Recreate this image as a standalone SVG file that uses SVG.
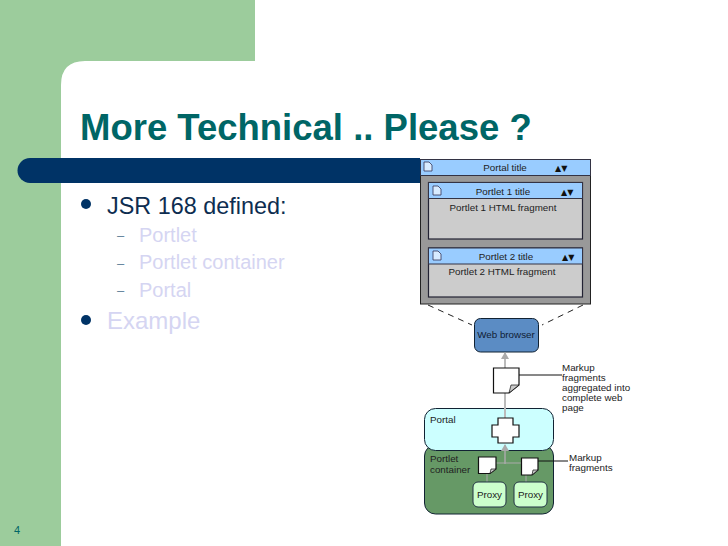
<svg xmlns="http://www.w3.org/2000/svg" width="728" height="546" viewBox="0 0 728 546">
<style>
text{font-family:"Liberation Sans",Arial,sans-serif}
.d{font-size:9.800px;fill:#222}
.m{text-anchor:middle}
.t{fill:#99ccff;stroke:#334;stroke-width:1}
.w{fill:#fff;stroke:#111;stroke-width:1.200}
.sub{font-size:20px;fill:#d5d5f2}
.dash{font-size:13px;fill:#5f7f99}
.bul{fill:#003366}
text.ar{font-family:"DejaVu Sans",sans-serif;font-size:8px;fill:#111}
.ic{fill:#d8ebff;stroke:#335;stroke-width:.8}
.fold{fill:#ccc;stroke:#111;stroke-width:.7}
</style>
<defs>
<path id="doc" d="M0 0H5L8 3V9H0Z"/>
<marker id="a" markerUnits="userSpaceOnUse" markerWidth="8" markerHeight="10" refX="6" refY="4" orient="auto"><path d="M0 0L7 4L0 8Z" fill="#aaa"/></marker>
</defs>
<rect width="728" height="546" fill="#fff"/>
<path d="M0 0H255V61H85Q61 61 61 85V546H0Z" fill="#9ccc9c"/>
<path d="M30 158H420V183H30A12.500 12.500 0 0 1 30 158Z" fill="#003366"/>
<text id="title" x="80" y="140" font-size="36.500" font-weight="bold" fill="#006666">More Technical .. Please ?</text>
<g id="bullets">
<circle class="bul" cx="86" cy="204" r="5"/>
<text x="107" y="214" font-size="23.400" fill="#0d2d50">JSR 168 defined:</text>
<text class="dash" x="117" y="240">–</text><text class="sub" x="139" y="242">Portlet</text>
<text class="dash" x="117" y="267.500">–</text><text class="sub" x="139" y="269">Portlet container</text>
<text class="dash" x="117" y="295">–</text><text class="sub" x="139" y="297">Portal</text>
<circle class="bul" cx="86" cy="320" r="5"/>
<text x="107" y="329" font-size="24" fill="#d5d5f2">Example</text>
</g>
<text id="pagenum" x="14" y="534" font-size="11" fill="#006666">4</text>
<g id="portal-window">
<rect x="420.500" y="159.500" width="170" height="144.500" fill="#999" stroke="#222"/>
<rect class="t" x="420.500" y="159.500" width="170" height="16"/>
<use href="#doc" class="ic" x="424" y="162"/>
<text class="d m" x="505" y="171">Portal title</text>
<text class="ar" x="555" y="171">▲▼</text>
</g>
<g id="portlet-1">
<rect x="428.500" y="182.500" width="154" height="56.500" fill="#ccc" stroke="#223" stroke-width="1.200"/>
<rect class="t" x="428.500" y="182.500" width="154" height="16"/>
<use href="#doc" class="ic" x="433" y="186"/>
<text class="d m" x="503" y="195">Portlet 1 title</text>
<text class="ar" x="561" y="195">▲▼</text>
<text class="d m" x="503" y="211">Portlet 1 HTML fragment</text>
</g>
<g id="portlet-2">
<rect x="428.500" y="248" width="154" height="49" fill="#ccc" stroke="#223" stroke-width="1.200"/>
<rect class="t" x="428.500" y="248" width="154" height="16"/>
<use href="#doc" class="ic" x="433" y="251"/>
<text class="d m" x="506" y="260">Portlet 2 title</text>
<text class="ar" x="562" y="260">▲▼</text>
<text class="d m" x="502" y="275">Portlet 2 HTML fragment</text>
</g>
<g id="web-browser">
<rect x="474.500" y="318.500" width="64" height="33.500" rx="6" fill="#5b8cc4" stroke="#123"/>
<text class="d m" x="506" y="338" style="fill:#102035">Web browser</text>
</g>
<g id="portlet-container">
<rect x="424.500" y="445" width="129" height="69" rx="11" fill="#669966" stroke="#123"/>
<text class="d" x="430" y="462">Portlet</text>
<text class="d" x="430" y="473">container</text>
</g>
<g id="portal">
<rect x="424.500" y="408.500" width="129" height="42" rx="11" fill="#ccffff" stroke="#123"/>
<text class="d" x="430" y="423">Portal</text>
</g>
<g id="connectors" fill="none">
<path d="M428 305L472 325M583 305L542 325" stroke="#222" stroke-dasharray="6 5"/>
<path d="M505 418V353" stroke="#bbb" stroke-width="2" marker-end="url(#a)"/>
<path d="M505 464V445" stroke="#aaa" stroke-width="1.500" marker-end="url(#a)"/>
<path d="M495 463H522M487 472V482M526 474V482" stroke="#aaa" stroke-width="1"/>
<path d="M519 375H562M538 461H568" stroke="#111" stroke-width="1"/>
</g>
<g id="page-node">
<path class="w" d="M493.500 368H519V385L509 393H493.500Z"/>
<path class="fold" d="M509 393L511 385H519Z"/>
</g>
<g id="aggregator">
<path class="w" d="M498 418H513V425H519V437H513V443H498V437H492V425H498Z"/>
</g>
<g id="label-aggregated">
<text class="d" x="562" y="371">Markup</text>
<text class="d" x="562" y="381">fragments</text>
<text class="d" x="562" y="391">aggregated into</text>
<text class="d" x="562" y="400.500">complete web</text>
<text class="d" x="562" y="410.500">page</text>
</g>
<g id="fragment-1">
<path class="w" d="M478.500 457H496V469L490 473.500H478.500Z"/>
<path class="fold" d="M490 473.500L491 469H496Z"/>
</g>
<g id="fragment-2">
<path class="w" d="M521.500 458H538V470L532 475H521.500Z"/>
<path class="fold" d="M532 475L533 470H538Z"/>
</g>
<g id="proxy-1">
<rect x="473" y="482" width="33" height="25" rx="5" fill="#ccffcc" stroke="#234"/>
<text class="d m" x="489.500" y="498">Proxy</text>
</g>
<g id="proxy-2">
<rect x="514" y="482" width="33" height="25" rx="5" fill="#ccffcc" stroke="#234"/>
<text class="d m" x="530.500" y="498">Proxy</text>
</g>
<g id="label-fragments">
<text class="d" x="569" y="461">Markup</text>
<text class="d" x="569" y="471">fragments</text>
</g>
</svg>
